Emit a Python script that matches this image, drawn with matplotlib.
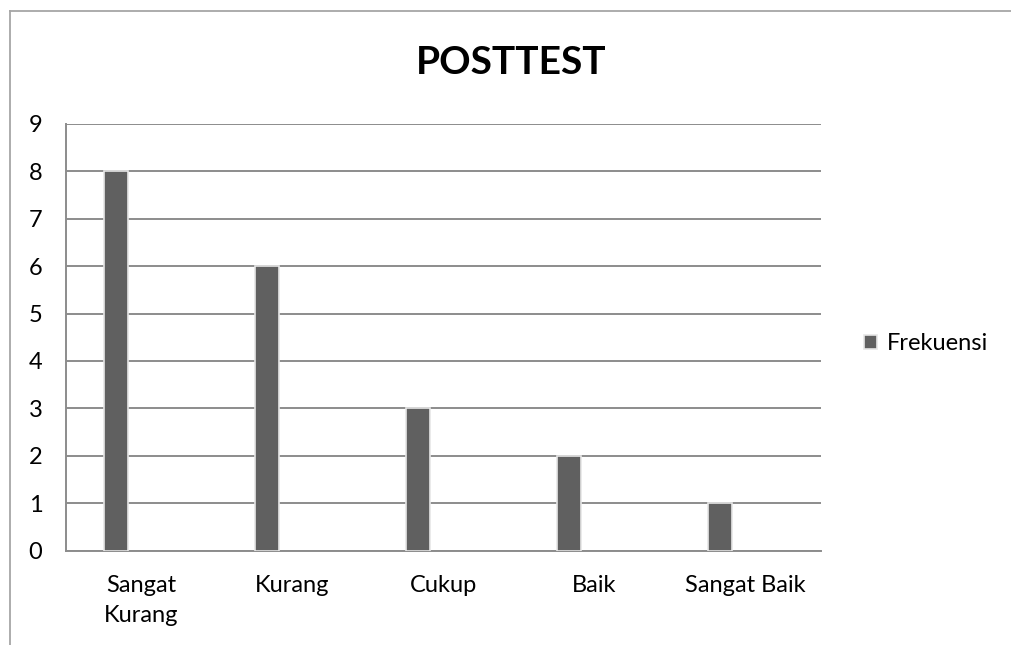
import matplotlib
matplotlib.use("Agg")
import matplotlib.pyplot as plt
import numpy as np
from matplotlib.lines import Line2D

plt.rcParams['font.family'] = ['Lato', 'DejaVu Sans']

categories = ['Sangat Kurang', 'Kurang', 'Cukup', 'Baik', 'Sangat Baik']
tick_labels = ['Sangat\nKurang', 'Kurang', 'Cukup', 'Baik', 'Sangat Baik']
frekuensi = [8, 6, 3, 2, 1]
series_name = 'Frekuensi'
title = 'POSTTEST'
y_ticks = list(range(0, 10))

W, H = 1012, 645
fig = plt.figure(figsize=(W / 100, H / 100), dpi=100)
fig.patch.set_facecolor('white')

# outer chart border (left and top visible)
border_col = '#a6a6a6'
fig.add_artist(Line2D([10 / W, 10 / W], [0, 1 - 11 / H], transform=fig.transFigure,
                      color=border_col, lw=1.3))
fig.add_artist(Line2D([10 / W, 1], [1 - 11 / H, 1 - 11 / H], transform=fig.transFigure,
                      color=border_col, lw=1.3))

left, right, top, bottom = 66, 821, 124, 550.5
ax = fig.add_axes([left / W, 1 - bottom / H, (right - left) / W, (bottom - top) / H])

x = np.arange(len(categories))
bars = ax.bar(x - 0.17, frekuensi, width=0.158, color='#606060',
              edgecolor='#e6e6e6', linewidth=1.2, zorder=3, label=series_name)

fs = 17
ax.set_xlim(-0.5, len(categories) - 0.5)
ax.set_ylim(0, 9)
ax.set_yticks(y_ticks)
ax.set_xticks(x)
ax.set_xticklabels(tick_labels, fontsize=fs, linespacing=1.5)
ax.tick_params(axis='both', length=0, labelsize=fs, colors='black')
ax.tick_params(axis='y', pad=17)
ax.tick_params(axis='x', pad=18)

grid_col = '#8c8c8c'
ax.yaxis.grid(True, color=grid_col, linewidth=1.4, zorder=0)
ax.set_axisbelow(True)
for s in ['top', 'right']:
    ax.spines[s].set_visible(False)
ax.spines['left'].set_color(grid_col)
ax.spines['left'].set_linewidth(1.4)
ax.spines['bottom'].set_color(grid_col)
ax.spines['bottom'].set_linewidth(1.4)

fig.text(511 / W, 1 - 63 / H, title, fontsize=28, fontweight='bold',
         ha='center', va='center', color='black')

fig.legend(handles=[bars], labels=[series_name], loc='center left',
           bbox_to_anchor=(864 / W, 1 - 344 / H), frameon=False,
           fontsize=fs, handlelength=0.55, handleheight=0.55, handletextpad=0.4,
           borderaxespad=0, borderpad=0)

fig.savefig('out.png', dpi=100, facecolor='white')
